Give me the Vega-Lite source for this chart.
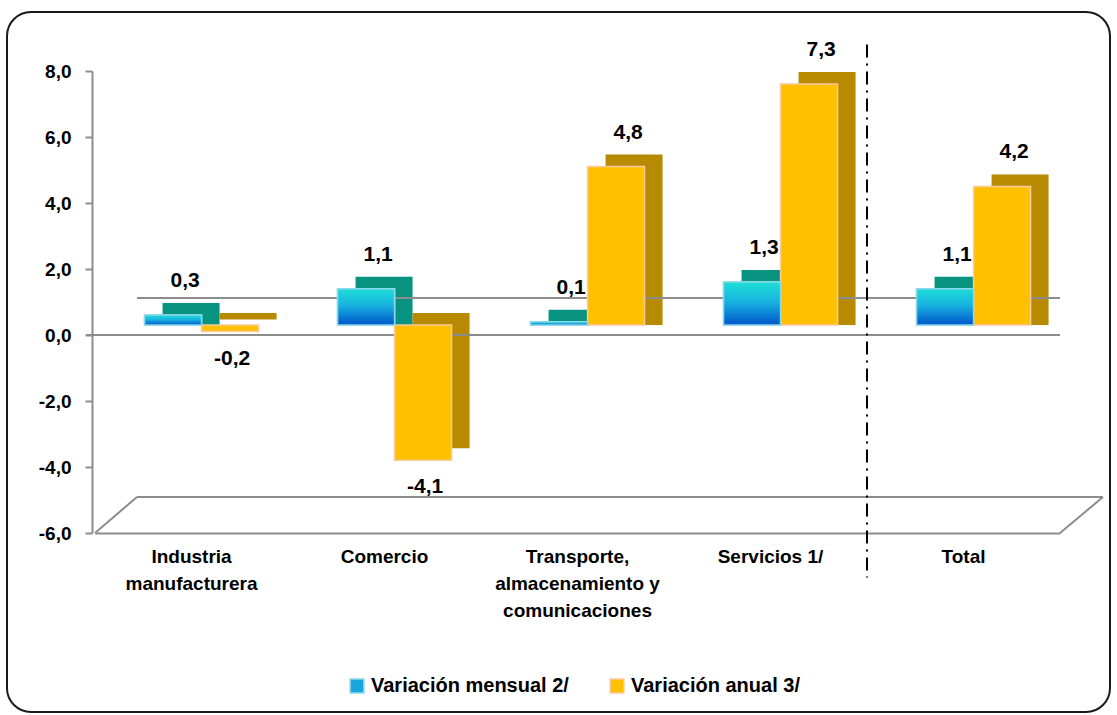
{
  "$schema": "https://vega.github.io/schema/vega-lite/v6.json",
  "width": 1103,
  "height": 700,
  "autosize": {"type": "none"},
  "padding": {"left": 7, "top": 12, "right": 7, "bottom": 3},
  "config": {
    "view": {"stroke": "#1a1a1a", "strokeWidth": 2, "cornerRadius": 24, "fill": "white"},
    "font": "Liberation Sans",
    "axis": {"labelFont": "Liberation Sans", "labelFontWeight": "bold", "labelColor": "#000", "grid": false}
  },
  "data": {
    "values": [
      {"cat": "Industria manufacturera", "serie": "Variación mensual 2/", "v": 0.3},
      {"cat": "Industria manufacturera", "serie": "Variación anual 3/", "v": -0.2},
      {"cat": "Comercio", "serie": "Variación mensual 2/", "v": 1.1},
      {"cat": "Comercio", "serie": "Variación anual 3/", "v": -4.1},
      {"cat": "Transporte, almacenamiento y comunicaciones", "serie": "Variación mensual 2/", "v": 0.1},
      {"cat": "Transporte, almacenamiento y comunicaciones", "serie": "Variación anual 3/", "v": 4.8},
      {"cat": "Servicios 1/", "serie": "Variación mensual 2/", "v": 1.3},
      {"cat": "Servicios 1/", "serie": "Variación anual 3/", "v": 7.3},
      {"cat": "Total", "serie": "Variación mensual 2/", "v": 1.1},
      {"cat": "Total", "serie": "Variación anual 3/", "v": 4.2}
    ]
  },
  "transform": [
    {"calculate": "(datum.v < 0 ? '-' : '') + replace(format(abs(datum.v), '.1f'), '.', ',')", "as": "lbl"}
  ],
  "resolve": {"scale": {"xOffset": "independent"}},
  "layer": [
    {
      "transform": [{"filter": "datum.v >= 0"}],
      "mark": {"type": "bar", "yOffset": -22, "y2Offset": -10},
      "encoding": {
        "x": {
          "field": "cat", "type": "nominal",
          "scale": {
            "domain": ["Industria manufacturera", "Comercio", "Transporte, almacenamiento y comunicaciones", "Servicios 1/", "Total"],
            "range": [88, 1053], "paddingInner": 0.41, "paddingOuter": 0.205
          },
          "axis": {
            "orient": "bottom", "offset": -179, "title": null, "ticks": false,
            "domainColor": "#8c8c8c", "domainWidth": 2, "labelFontSize": 19, "labelLineHeight": 27,
            "labelPadding": 14, "labelAngle": 0, "labelOverlap": false, "labelLimit": 300,
            "labelExpr": "datum.value == 'Industria manufacturera' ? ['Industria', 'manufacturera'] : datum.value == 'Transporte, almacenamiento y comunicaciones' ? ['Transporte,', 'almacenamiento y', 'comunicaciones'] : datum.label"
          }
        },
        "xOffset": {"field": "serie", "type": "nominal", "scale": {"domain": ["Variación mensual 2/", "Variación anual 3/"], "range": [28, 142], "paddingInner": 0, "paddingOuter": 0}},
        "y": {
          "field": "v", "type": "quantitative",
          "scale": {"domain": [-6, 8], "range": [521, 59], "nice": false, "zero": false},
          "axis": {
            "values": [-6, -4, -2, 0, 2, 4, 6, 8], "offset": -85, "title": null,
            "labelExpr": "(datum.value < 0 ? '-' : '') + replace(format(abs(datum.value), '.1f'), '.', ',')",
            "labelFontSize": 19, "labelPadding": 14, "tickSize": 7, "tickColor": "#8c8c8c", "tickWidth": 2,
            "domainColor": "#8c8c8c", "domainWidth": 2
          }
        },
        "y2": {"datum": 0},
        "fill": {
          "condition": {"test": "datum.serie == 'Variación mensual 2/'", "value": "#07937F"},
          "value": "#B88A00"
        }
      }
    },
    {
      "transform": [{"filter": "datum.v < 0"}],
      "mark": {"type": "bar", "yOffset": -22, "y2Offset": -22},
      "encoding": {
        "x": {"field": "cat", "type": "nominal"},
        "xOffset": {"field": "serie", "type": "nominal", "scale": {"domain": ["Variación mensual 2/", "Variación anual 3/"], "range": [28, 142], "paddingInner": 0, "paddingOuter": 0}},
        "y": {"field": "v", "type": "quantitative"},
        "fill": {
          "condition": {"test": "datum.serie == 'Variación mensual 2/'", "value": "#07937F"},
          "value": "#B88A00"
        }
      }
    },
    {
      "data": {"values": [{"k": 1}]},
      "mark": {"type": "rule", "color": "#8c8c8c", "strokeWidth": 2, "xOffset": -9},
      "encoding": {
        "x": {"datum": "Industria manufacturera", "bandPosition": -0.3475},
        "x2": {"datum": "Total", "bandPosition": 1.3475},
        "y": {"datum": 0}
      }
    },
    {
      "data": {"values": [{"k": 1}]},
      "mark": {"type": "rule", "color": "#8c8c8c", "strokeWidth": 2, "xOffset": 42, "yOffset": -37},
      "encoding": {
        "x": {"datum": "Industria manufacturera", "bandPosition": -0.3475},
        "x2": {"datum": "Total", "bandPosition": 1.3475},
        "y": {"datum": 0}
      }
    },
    {
      "data": {"values": [{"k": 1}]},
      "mark": {"type": "rule", "color": "#8c8c8c", "strokeWidth": 2, "xOffset": 42, "x2Offset": 43, "yOffset": -36},
      "encoding": {
        "x": {"datum": "Industria manufacturera", "bandPosition": -0.3475},
        "x2": {"datum": "Total", "bandPosition": 1.3475},
        "y": {"datum": -6}
      }
    },
    {
      "data": {"values": [{"k": 1}]},
      "mark": {"type": "rule", "color": "#8c8c8c", "strokeWidth": 2, "x2Offset": 42, "y2Offset": -36},
      "encoding": {
        "x": {"datum": "Industria manufacturera", "bandPosition": -0.3475},
        "x2": {"datum": "Industria manufacturera", "bandPosition": -0.3475},
        "y": {"datum": -6},
        "y2": {"datum": -6}
      }
    },
    {
      "data": {"values": [{"k": 1}]},
      "mark": {"type": "rule", "color": "#8c8c8c", "strokeWidth": 2, "x2Offset": 43, "y2Offset": -36},
      "encoding": {
        "x": {"datum": "Total", "bandPosition": 1.3475},
        "x2": {"datum": "Total", "bandPosition": 1.3475},
        "y": {"datum": -6},
        "y2": {"datum": -6}
      }
    },
    {
      "data": {"values": [{"k": 1}]},
      "mark": {"type": "rule", "color": "#000", "strokeWidth": 2, "strokeDash": [13, 6, 2, 6]},
      "encoding": {
        "x": {"datum": "Total", "bandPosition": -0.3475},
        "y": {"datum": 8.8},
        "y2": {"datum": -7.35}
      }
    },
    {
      "mark": {"type": "bar", "strokeWidth": 1.5, "yOffset": -10, "y2Offset": -10},
      "encoding": {
        "x": {"field": "cat", "type": "nominal"},
        "xOffset": {"field": "serie", "type": "nominal", "scale": {"domain": ["Variación mensual 2/", "Variación anual 3/"], "range": [10, 124], "paddingInner": 0, "paddingOuter": 0}},
        "y": {"field": "v", "type": "quantitative"},
        "fill": {
          "field": "serie", "type": "nominal",
          "scale": {"domain": ["Variación mensual 2/", "Variación anual 3/"], "range": ["#17A6DE", "#FFC000"]},
          "legend": {
            "orient": "none", "legendX": 340, "legendY": 664, "direction": "horizontal", "title": null,
            "symbolType": "square", "symbolSize": 190, "labelFontSize": 20, "labelFont": "Liberation Sans",
            "labelFontWeight": "bold", "labelColor": "#000", "columnPadding": 38, "labelOffset": 4,
            "symbolStrokeWidth": 1.5, "labelLimit": 400
          }
        },
        "stroke": {
          "field": "serie", "type": "nominal",
          "scale": {"domain": ["Variación mensual 2/", "Variación anual 3/"], "range": ["#8AD8E8", "#F9C9A0"]}
        }
      }
    },
    {
      "transform": [{"filter": "datum.serie == 'Variación mensual 2/'"}],
      "mark": {
        "type": "bar", "stroke": "#8AD8E8", "strokeWidth": 1.5, "yOffset": -10, "y2Offset": -10,
        "fill": {"gradient": "linear", "x1": 0, "y1": 0, "x2": 0, "y2": 1,
          "stops": [{"offset": 0, "color": "#1EDDD6"}, {"offset": 0.45, "color": "#19B4E0"}, {"offset": 1, "color": "#0055CC"}]}
      },
      "encoding": {
        "x": {"field": "cat", "type": "nominal"},
        "xOffset": {"field": "serie", "type": "nominal", "scale": {"domain": ["Variación mensual 2/", "Variación anual 3/"], "range": [10, 124], "paddingInner": 0, "paddingOuter": 0}},
        "y": {"field": "v", "type": "quantitative"}
      }
    },
    {
      "transform": [{"filter": "datum.v >= 0"}],
      "mark": {"type": "text", "baseline": "middle", "dx": 22, "dy": -44, "fontSize": 21, "fontWeight": "bold", "font": "Liberation Sans", "color": "#000"},
      "encoding": {
        "x": {"field": "cat", "type": "nominal"},
        "xOffset": {"field": "serie", "type": "nominal", "scale": {"type": "point", "domain": ["Variación mensual 2/", "Variación anual 3/"], "range": [28.5, 85.5], "padding": 0}},
        "y": {"field": "v", "type": "quantitative"},
        "text": {"field": "lbl"}
      }
    },
    {
      "transform": [{"filter": "datum.v < 0"}],
      "mark": {"type": "text", "baseline": "middle", "dx": 12, "dy": 17, "fontSize": 21, "fontWeight": "bold", "font": "Liberation Sans", "color": "#000"},
      "encoding": {
        "x": {"field": "cat", "type": "nominal"},
        "xOffset": {"field": "serie", "type": "nominal", "scale": {"type": "point", "domain": ["Variación mensual 2/", "Variación anual 3/"], "range": [28.5, 85.5], "padding": 0}},
        "y": {"field": "v", "type": "quantitative"},
        "text": {"field": "lbl"}
      }
    }
  ]
}
